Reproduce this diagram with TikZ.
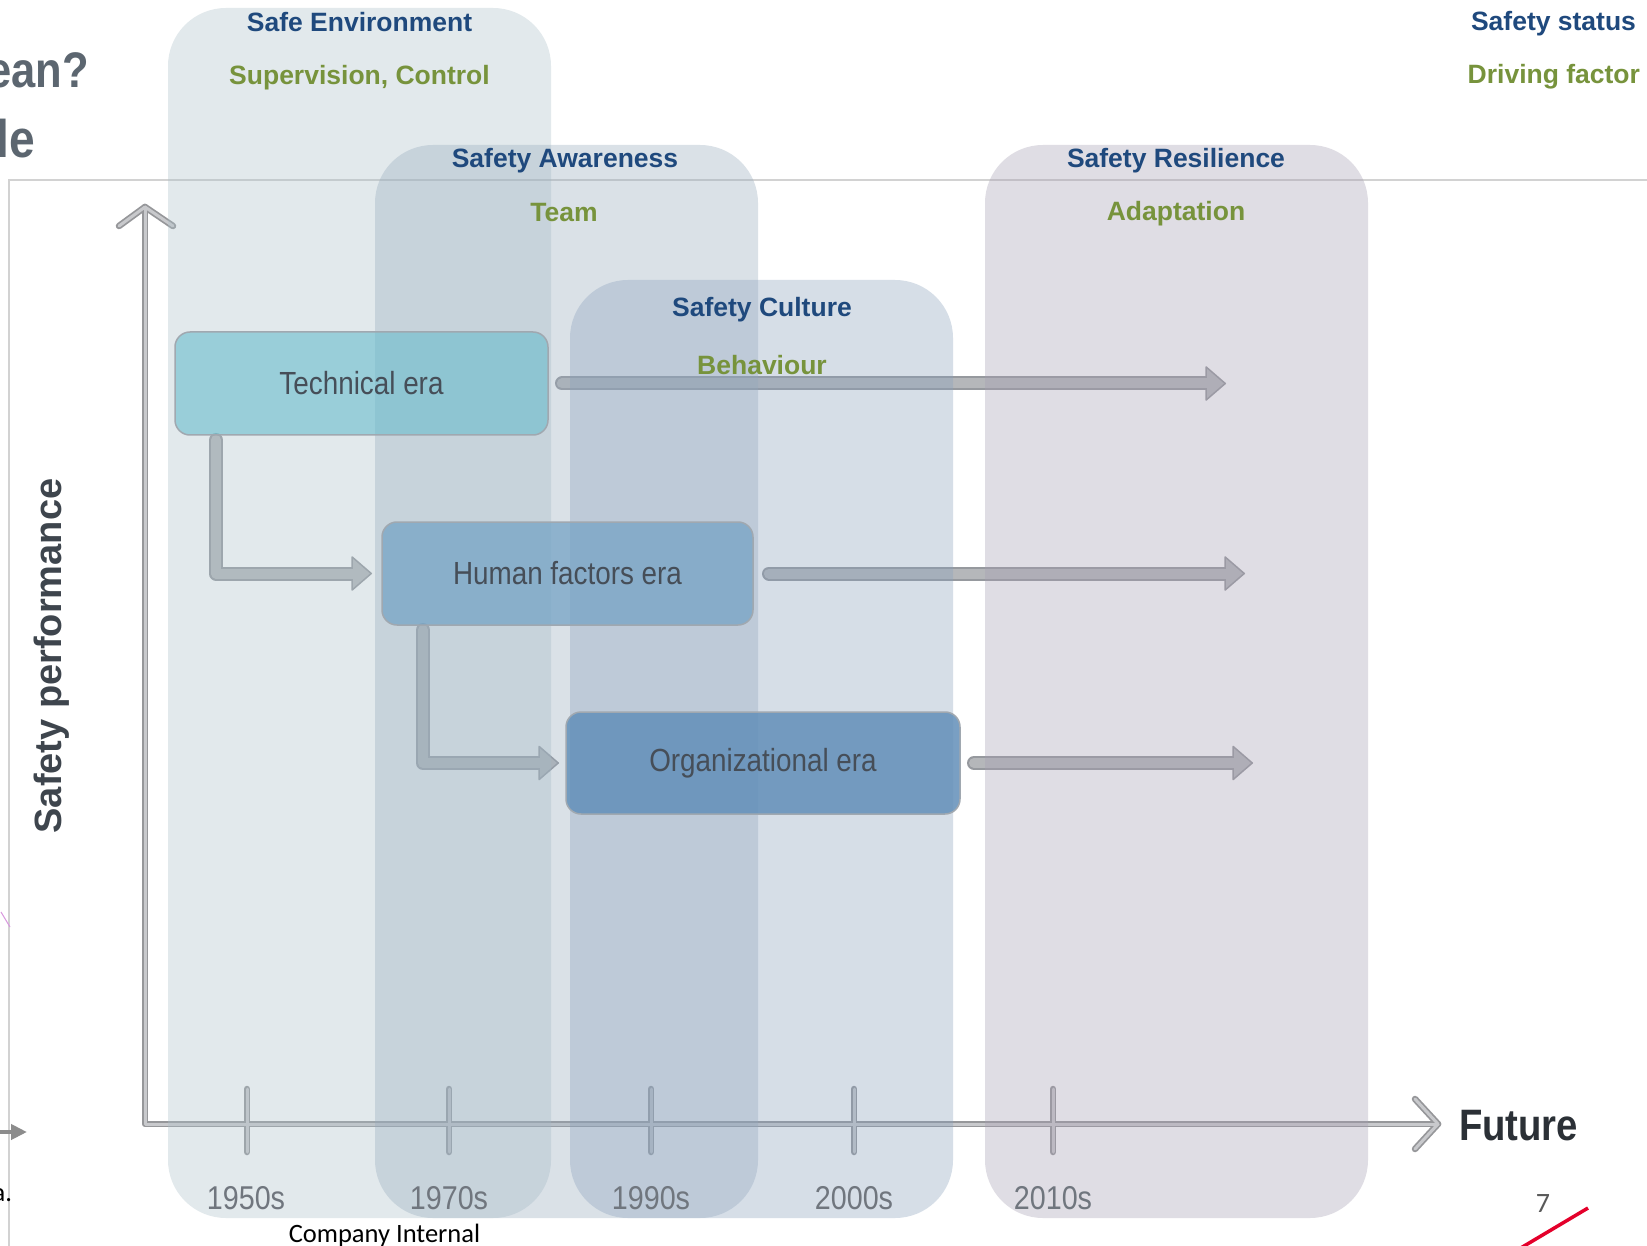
\documentclass[tikz,border=0pt]{standalone}
\usepackage{fontspec}
\setmainfont{Liberation Sans}
\newfontfamily\narrowfont[FakeStretch=0.87]{Liberation Sans}
\newfontfamily\officefont{Carlito}
\usetikzlibrary{arrows.meta,calc}

\newcommand{\pxsize}[1]{\fontsize{#1}{#1}\selectfont}

\definecolor{headblue}{RGB}{31,73,125}
\definecolor{drivegreen}{RGB}{119,147,60}
\definecolor{titlegray}{RGB}{92,102,112}
\definecolor{framegray}{RGB}{210,210,210}
\definecolor{axisedge}{RGB}{150,151,154}
\definecolor{axisfill}{RGB}{200,201,204}
\definecolor{arrowedge}{RGB}{150,153,158}
\definecolor{arrowfill}{RGB}{181,183,186}
\definecolor{erabord}{RGB}{160,168,176}
\definecolor{eratext}{RGB}{70,78,88}
\definecolor{techfill}{RGB}{105,189,205}
\definecolor{humfill}{RGB}{117,163,197}
\definecolor{orgfill}{RGB}{98,143,185}
\definecolor{colA}{RGB}{172,192,201}
\definecolor{colB}{RGB}{150,170,188}
\definecolor{colC}{RGB}{138,161,189}
\definecolor{colD}{RGB}{166,158,178}
\definecolor{yeargray}{RGB}{112,118,126}
\definecolor{futuredark}{RGB}{43,48,54}
\definecolor{perfgray}{RGB}{62,69,77}
\definecolor{pagegray}{RGB}{89,89,89}
\definecolor{slidered}{RGB}{228,0,43}

\tikzset{
  x=1pt, y=-1pt,
  txt/.style={inner sep=0pt, outer sep=0pt},
  erabox/.style={draw=erabord, line width=1.5pt, rounded corners=15pt, inner sep=0pt},
  eratxt/.style={txt, text=eratext, font=\narrowfont\pxsize{32}},
  colbox/.style={rounded corners=58pt, inner sep=0pt, fill opacity=0.35,
    minimum width=383pt},
  headtxt/.style={txt, anchor=base, text=headblue, font=\bfseries\pxsize{26.5}},
  drivetxt/.style={txt, anchor=base, text=drivegreen, font=\bfseries\pxsize{26.5}},
  yeartxt/.style={txt, text=yeargray, font=\narrowfont\pxsize{33}},
  flowedge/.style={line width=14pt, draw=arrowedge, line cap=round, line join=round,
    -{Triangle[length=21pt, width=36pt, round, line width=1.5pt, fill=arrowfill, color=arrowedge]}},
  flowcore/.style={line width=10pt, draw=arrowfill, line cap=round, line join=round,
    shorten >=17pt},
}

\begin{document}
\begin{tikzpicture}
\useasboundingbox (0,0) rectangle (1647,1246);
\fill[white] (0,0) rectangle (1647,1246);

% slide frame
\draw[framegray, line width=2pt] (1647,180) -- (9,180) -- (9,1246);

% fragments at the left slide edge
\draw[color={rgb,255:red,216;green,150;blue,222}, line width=1pt] (1,912) -- (10,927);
\coordinate (lefttip) at (27,1132);
\draw[color={rgb,255:red,140;green,140;blue,140}, line width=4.5pt,
  -{Triangle[length=16pt, width=15pt]}] (-10,1132) -- (lefttip);

% axes, arrow heads and year ticks
\coordinate (O) at (145,1124);
\coordinate (ytop) at (145,207);
\coordinate (xend) at (1438,1124);
\foreach \t/\tx in {t1/247, t2/449, t3/651, t4/854, t5/1053}
  \coordinate (\t) at (\tx,1124);
\foreach \w/\c in {6.5/axisedge, 3/axisfill} {
  \draw[line width=\w pt, draw=\c, line cap=round, line join=round] (ytop) -- (O) -- (xend);
  \draw[line width=\w pt, draw=\c, line cap=round, line join=round]
    ($(ytop)+(-26,19)$) -- (ytop) -- ($(ytop)+(28,19)$);
  \draw[line width=\w pt, draw=\c, line cap=round, line join=round]
    ($(xend)+(-23,-25)$) -- (xend) -- ($(xend)+(-23,25)$);
  \foreach \t in {t1,t2,t3,t4,t5}
    \draw[line width=\w pt, draw=\c, line cap=round] ($(\t)+(0,-35)$) -- ($(\t)+(0,28)$);
}

% era box outlines (positions of the three eras)
\coordinate (techc) at (361.5,383.5);
\coordinate (humc) at (567.5,573.5);
\coordinate (orgc) at (763,763);

% connectors between eras and towards the future
\coordinate (techdrop) at (216,440);
\coordinate (humin) at (372,573.5);
\coordinate (humdrop) at (423,630);
\coordinate (orgin) at (559,763);
\coordinate (techout) at (562,383.5);
\coordinate (techend) at (1226,383.5);
\coordinate (humout) at (769,573.5);
\coordinate (humend) at (1245,573.5);
\coordinate (orgout) at (974,763);
\coordinate (orgend) at (1253,763);
\draw[flowedge] (techdrop) |- (humin);
\draw[flowcore] (techdrop) |- (humin);
\draw[flowedge] (humdrop) |- (orgin);
\draw[flowcore] (humdrop) |- (orgin);
\draw[flowedge] (techout) -- (techend);
\draw[flowcore] (techout) -- (techend);
\draw[flowedge] (humout) -- (humend);
\draw[flowcore] (humout) -- (humend);
\draw[flowedge] (orgout) -- (orgend);
\draw[flowcore] (orgout) -- (orgend);

% safety status columns
\node[colbox, fill=colA, minimum height=1210pt] (envcol) at (359.5,613) {};
\node[colbox, fill=colB, minimum height=1073pt] (awarecol) at (566.5,681.5) {};
\node[colbox, fill=colC, minimum height=938pt] (culturecol) at (761.5,749) {};
\node[colbox, fill=colD, minimum height=1073pt] (resilcol) at (1176.5,681.5) {};

% era boxes
\node[erabox, fill=techfill, fill opacity=0.6, minimum width=373pt, minimum height=103pt] (tech) at (techc) {};
\node[erabox, fill=humfill, fill opacity=0.75, minimum width=371pt, minimum height=103pt] (hum) at (humc) {};
\node[erabox, fill=orgfill, fill opacity=0.85, minimum width=394pt, minimum height=102pt] (org) at (orgc) {};
\node[eratxt] (techlbl) at (tech.center) {Technical era};
\node[eratxt] (humlbl) at (hum.center) {Human factors era};
\node[eratxt] (orglbl) at (org.center) {Organizational era};

% column headings
\node[headtxt] (envhead) at (359.5,32) {Safe Environment};
\node[drivetxt] (envdrive) at (359.5,84.5) {Supervision, Control};
\node[headtxt] (awarehead) at (565,168) {Safety Awareness};
\node[drivetxt] (awaredrive) at (564,222) {Team};
\node[headtxt] (culturehead) at (762,317) {Safety Culture};
\node[drivetxt] (culturedrive) at (762,375) {Behaviour};
\node[headtxt] (resilhead) at (1176,168) {Safety Resilience};
\node[drivetxt] (resildrive) at (1176,221) {Adaptation};
\node[headtxt, anchor=base east] (statushead) at (1636,31) {Safety status};
\node[drivetxt, anchor=base east] (drivehead) at (1640,84) {Driving factor};

% axis labels
\node[yeartxt] (y1) at (246,1198) {1950s};
\node[yeartxt] (y2) at (449,1198) {1970s};
\node[yeartxt] (y3) at (651,1198) {1990s};
\node[yeartxt] (y4) at (854,1198) {2000s};
\node[yeartxt] (y5) at (1053,1198) {2010s};
\node[txt, anchor=base west, text=futuredark, font=\narrowfont\bfseries\pxsize{44}] (future) at (1459,1140) {Future};
\node[txt, rotate=90, text=perfgray, font=\bfseries\pxsize{38}] (perf) at (52,656) {Safety performance};

% slide title fragments
\node[txt, anchor=base east, text=titlegray, font=\narrowfont\bfseries\pxsize{50}] (titleA) at (89,88) {ean?};
\node[txt, anchor=base west, text=titlegray, font=\narrowfont\bfseries\pxsize{53}] (titleB) at (-3,158) {le};

% footer
\node[txt, anchor=base, font=\officefont\pxsize{26.5}] (footer) at (384.5,1242) {Company Internal};
\node[txt, anchor=base, text=pagegray, font=\officefont\pxsize{28}] (pageno) at (1543,1212) {7};
\node[txt, anchor=base east, font=\officefont\pxsize{26.5}] (leftfrag) at (12,1201) {a.};
\coordinate (redA) at (1514,1252);
\coordinate (redB) at (1588,1208);
\draw[slidered, line width=3.5pt] (redA) -- (redB);
\end{tikzpicture}
\end{document}
